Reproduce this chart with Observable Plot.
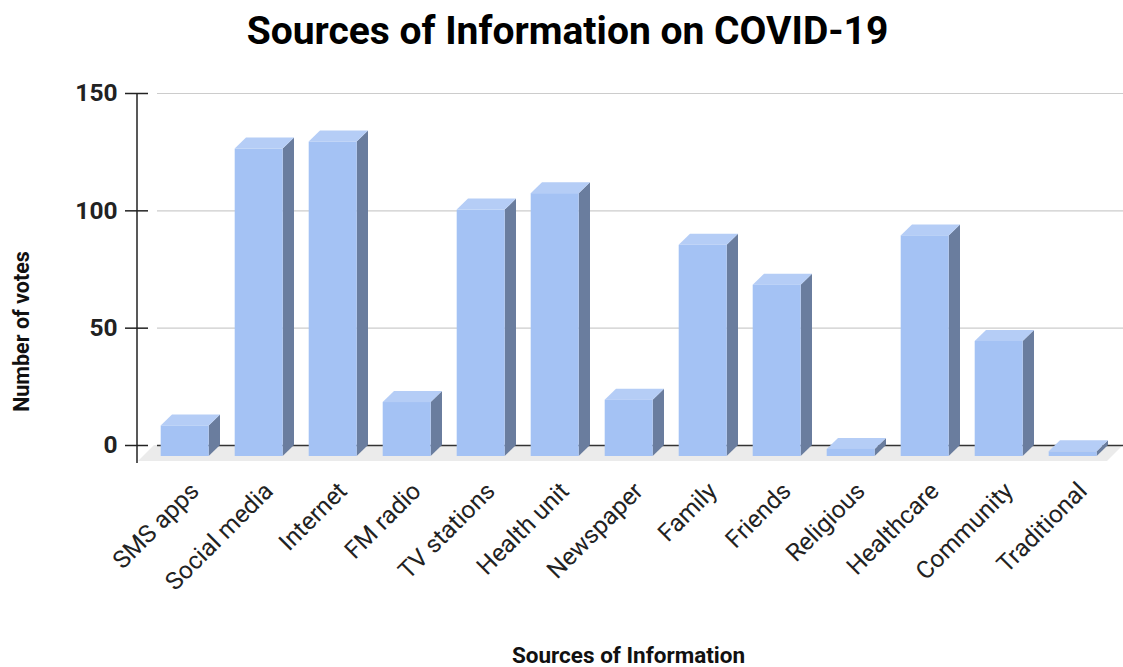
<!DOCTYPE html>
<html><head><meta charset="utf-8">
<script src="https://cdn.jsdelivr.net/npm/d3@7"></script>
<script src="https://cdn.jsdelivr.net/npm/@observablehq/plot@0.6"></script>
<style>
body{margin:0;background:#fff;font-family:Roboto,sans-serif;}
#title{height:62px;line-height:62px;font-size:39px;font-weight:bold;text-align:center;padding-left:12px;color:#000;white-space:nowrap;box-sizing:border-box}
#chart svg{display:block;font-family:Roboto,sans-serif;}
</style></head><body>
<div id="title">Sources of Information on COVID-19</div>
<div id="chart"></div>
<script>
const categories = ["SMS apps","Social media","Internet","FM radio","TV stations","Health unit","Newspaper","Family","Friends","Religious","Healthcare","Community","Traditional"];
const votes = [13,131,134,23,105,112,24,90,73,3,94,49,2];
const yTicks = [0,50,100,150];
const gridTicks = [50,100,150];
const xTitle = "Sources of Information";
const yTitle = "Number of votes";

const data = categories.map((c,i)=>({source:c, votes:votes[i]}));

const FRONT = "#a4c2f4", TOP = "#b5cdf6", SIDE = "#6a7d9e", FLOORC = "#ebebeb";
const DX = 11.3, DY = 11, FD = 16;

function floorMark(index, {x, y}, values, dims) {
  const g = d3.create("svg:g");
  const x0 = dims.marginLeft - 3, x1 = dims.width, y0 = y(0);
  g.append("path")
    .attr("d", `M${x0},${y0}L${x1},${y0}L${x1-FD},${y0+FD}L${x0-FD},${y0+FD}Z`)
    .attr("fill", FLOORC);
  return g.node();
}
function facesMark(index, {x, y}) {
  const g = d3.create("svg:g");
  const bw = x.bandwidth();
  const yb = y(0);
  for (const d of data) {
    const bx0 = x(d.source), bx1 = bx0 + bw, yt = y(d.votes);
    g.append("path")
      .attr("d", `M${bx1-DX},${yt+DY}L${bx1},${yt}L${bx1},${yb}L${bx1-DX},${yb+DY}Z`)
      .attr("fill", SIDE);
    g.append("path")
      .attr("d", `M${bx0-DX},${yt+DY}L${bx1-DX},${yt+DY}L${bx1},${yt}L${bx0},${yt}Z`)
      .attr("fill", TOP);
  }
  return g.node();
}
function axisLineMark(index, {y}, values, dims) {
  const g = d3.create("svg:g");
  const ax = dims.marginLeft - 20;
  g.append("line").attr("x1", ax).attr("x2", ax)
    .attr("y1", y(150)).attr("y2", y(0) + 18)
    .attr("stroke", "#222").attr("stroke-width", 1.5);
  return g.node();
}

const plot = Plot.plot({
  width: 1123,
  height: 605,
  marginLeft: 157,
  marginRight: 0,
  marginTop: 31,
  marginBottom: 222,
  style: {fontFamily: "Roboto, sans-serif", color: "#222", background: "#fff"},
  x: {type: "band", domain: categories, paddingInner: 0.348, paddingOuter: 0.174, axis: null},
  y: {domain: [0, 150], axis: null},
  marks: [
    floorMark,
    Plot.ruleY(gridTicks, {stroke: "#cccccc", strokeWidth: 1.2}),
    Plot.ruleY([0], {stroke: "#333", strokeWidth: 1.5}),
    facesMark,
    Plot.barY(data, {x: "source", y: "votes", fill: FRONT, dx: -DX, dy: DY}),
    axisLineMark,
    Plot.axisY(yTicks, {tickSize: 23, tickPadding: 8, dx: -9, fontSize: 24.5, fontWeight: "bold", label: null, stroke: "#222", strokeWidth: 1.5, fill: "#222"}),
    Plot.text(data, {x: "source", y: 0, text: "source", rotate: -45, textAnchor: "end", lineAnchor: "bottom", dx: 4, dy: 47, fontSize: 24.5, fill: "#222"}),
    Plot.text([xTitle], {frameAnchor: "bottom", lineAnchor: "bottom", dy: 217, dx: -12, fontSize: 22.5, fontWeight: "bold", fill: "#111"}),
    Plot.text([yTitle], {frameAnchor: "left", rotate: -90, textAnchor: "middle", lineAnchor: "bottom", dx: -129, dy: 62, fontSize: 21.5, fontWeight: "bold", fill: "#111"})
  ]
});
document.getElementById("chart").appendChild(plot);
</script>
</body></html>
